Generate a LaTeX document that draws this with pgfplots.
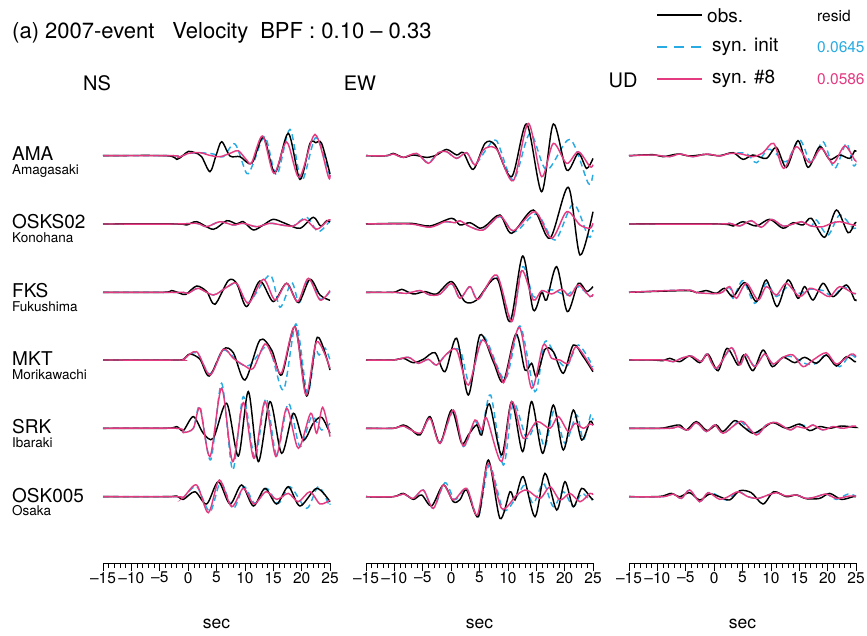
\documentclass[border=0pt]{standalone}
\usepackage{pgfplots}
\pgfplotsset{compat=1.18}
\usepackage{fontspec}
\setmainfont{TeX Gyre Heros}
\definecolor{cyanR}{RGB}{40,170,226}
\definecolor{magR}{RGB}{228,58,128}
\newcommand{\fs}[1]{\fontsize{#1}{#1}\selectfont}
\pgfplotsset{
  obs/.style={black, line width=1.45pt, smooth, tension=0.5, mark=none},
  ini/.style={cyanR, line width=1.45pt, dash pattern=on 6pt off 4pt, smooth, tension=0.5, mark=none},
  sy8/.style={magR, line width=1.45pt, smooth, tension=0.5, mark=none},
  r1/.style={y filter/.expression={y+407.3}},
  r2/.style={y filter/.expression={y+339.0}},
  r3/.style={y filter/.expression={y+270.7}},
  r4/.style={y filter/.expression={y+203.0}},
  r5/.style={y filter/.expression={y+134.7}},
  r6/.style={y filter/.expression={y+66.3}},
  panel/.style={
    scale only axis, width=227pt, height=453pt,
    xmin=-15, xmax=25, ymin=0, ymax=453,
    axis x line=bottom, axis y line=none,
    axis line style={-, line width=0.8pt},
    clip=false,
    xtick={-15,-10,...,25},
    xticklabels={–15,–10,–5,0,5,10,15,20,25},
    minor x tick num=4,
    tick align=outside, major tick length=8pt, minor tick length=4.5pt,
    every tick/.style={black, line width=0.6pt},
    xticklabel style={font=\fs{15.5}, inner sep=1pt},
    xlabel={sec},
    xlabel style={font=\fs{17.5}, at={(axis description cs:0.5,0)}, anchor=center, yshift=-61pt},
  }
}
\begin{document}
\begin{tikzpicture}
\useasboundingbox (0,0) rectangle (867pt,635pt);

% ---------------- NS ----------------
\begin{axis}[panel, at={(103pt,72pt)}, anchor=south west]
% AMA
\addplot[ini,r1] coordinates {(-15,0)(-2.6,0)(-1.7,-1.5)(0.04,2)(2.09,3)(4.44,1.7)(6.2,-1)(8.26,11.7)(10.31,-17.7)(11.49,-7.7)(13.54,19)(15.6,-19.3)(17.95,26.3)(20.01,-25)(22.53,18.3)(25,-21)};
\addplot[obs,r1] coordinates {(-15,0)(-3.78,0)(-2.0,-3.7)(-0.96,0)(0.04,4.3)(1.21,3)(2.38,-1)(3.85,-16)(4.91,0)(5.91,14)(7.38,-0.3)(9.14,-1)(11.2,-7.7)(13.25,18.3)(15.31,-17)(17.66,22.3)(19.71,-23.7)(21.47,12.3)(22.5,13)(23.53,12.3)(25,-18.3)};
\addplot[sy8,r1] coordinates {(-15,0)(-2.61,0)(-1.73,-1.7)(0.04,2.3)(2.09,3)(3.85,0.3)(5.62,-1)(7.67,3)(8.85,5)(10.31,-4.3)(11.2,-7)(13.13,19.7)(15.13,-17.7)(17.36,13.7)(19.59,-21.7)(22.36,21.3)(24.71,-21)(25,-19.3)};
% OSKS02
\addplot[ini,r2] coordinates {(-15,0)(-2,0)(1.5,0.7)(3.27,-2.7)(5.62,2.3)(7.96,-1)(9.73,0.7)(12.08,-2.7)(14.43,0.7)(16.48,-1)(18.54,-2)(20.89,6.7)(22.94,-7.7)(25,3.3)};
\addplot[obs,r2] coordinates {(-15,0)(-2.0,0)(-0.26,-1)(1.5,2.3)(4.44,-5.3)(6.79,3.3)(8.55,0)(9.73,2.3)(11.49,-6)(13.25,-1)(15.01,4.7)(17.07,0.7)(19.71,-4.3)(22.06,6.7)(23.35,-2)(24.41,3.3)(25,2)};
\addplot[sy8,r2] coordinates {(-15,0)(-2,0)(1.5,0.7)(3.27,-2.7)(5.62,2.3)(7.96,-1)(9.73,0.7)(12.08,-2.7)(14.43,0.7)(16.48,-1)(18.54,-2)(20.59,4.7)(22.65,-5.3)(24.71,4)(25,3.3)};
% FKS
\addplot[ini,r3] coordinates {(-15,0)(-2.61,0)(-0.85,0)(0.04,-1)(1.8,4)(4.44,-2.7)(6.79,5)(8.55,8)(10.61,-10.3)(14.43,17.3)(16.19,-15)(18.24,9.7)(19.59,-10.3)(21.36,14)(23.24,-7)(25,0.7)};
\addplot[obs,r3] coordinates {(-15,0)(-4.37,0)(-2.9,1.7)(-1.43,-1)(-0.38,-2)(1.5,6.3)(3.27,0.7)(4.73,-12)(7.08,11.7)(8.55,9)(10.31,-14.3)(12.66,11.3)(15.01,-9.3)(17.36,9)(19.42,-10.3)(21.47,13)(23.24,-2.7)(25,-8)};
\addplot[sy8,r3] coordinates {(-15,0)(-2.61,0)(-0.85,0)(0.04,-1)(1.8,4)(4.44,-2.7)(6.79,5)(8.55,9)(10.61,-11)(13.25,13)(15.31,-7.7)(17.36,9)(19.3,-9.3)(21.18,14)(23.24,-7.7)(25,1.7)};
% MKT
\addplot[ini,r4] coordinates {(-15,0)(-2,0)(-0.85,0.7)(1.5,7.3)(3.85,-14)(6.2,10)(9.14,-3.3)(10.9,-5)(14.13,13.3)(16.78,-30)(19.01,36)(21.0,-33.3)(22.36,8)(23.1,5)(24.12,12)(25,0)};
\addplot[obs,r4] coordinates {(-15,0)(-2.0,0)(-0.85,0.7)(0.33,6)(2.09,0.7)(3.74,-16)(6.2,10.7)(7.96,7.3)(10.02,-20)(12.66,20)(14.72,10)(16.48,-15)(18.83,33.3)(20.89,-36)(22.77,22.7)(25,-10)};
\addplot[sy8,r4] coordinates {(-15,0)(-2,0)(-0.85,0.7)(1.5,8.3)(3.85,-15)(6.2,10.7)(7.96,1.7)(10.02,-6)(11.49,-8.3)(13.54,16)(15.01,1.7)(16.48,-12.7)(18.83,33.3)(20.77,-35)(22.65,18.3)(25,-8.3)};
% SRK
\addplot[ini,r5] coordinates {(-15,0)(-2,0)(-0.85,-4)(0.92,0)(2.09,21.7)(3.97,-31.7)(5.91,45)(7.85,-41.7)(9.73,31.7)(11.78,-30)(13.72,30)(15.6,-26.7)(17.66,25)(19.71,-18.3)(21.77,11.7)(23.53,-1.7)(25,5)};
\addplot[obs,r5] coordinates {(-15,0)(-3.78,0)(-2.0,1.7)(-0.85,-2.3)(0.92,11.7)(2.68,-5)(4.44,-10)(6.79,25)(8.85,-27.7)(10.61,36.7)(12.37,-33.3)(14.43,26.7)(16.48,-25)(18.54,15)(20.3,-11.7)(22.06,5)(23.53,11)(25,-5)};
\addplot[sy8,r5] coordinates {(-15,0)(-2.0,0)(-0.85,-4.3)(0.92,0)(2.09,20)(3.85,-28.3)(5.91,40)(7.85,-33.3)(9.73,25.7)(11.61,-30)(13.54,26.7)(15.48,-28.3)(17.36,20)(19.42,-20)(21.59,15)(22.65,-5)(23.71,21)(25,-8.3)};
% OSK005
\addplot[ini,r6] coordinates {(-15,0)(-2,0)(-0.85,-0.7)(1.5,10)(3.85,-15)(5.73,14)(7.96,-11.7)(9.85,10)(11.78,-6.7)(13.84,8.3)(15.89,-6.7)(17.95,10)(20.89,-11.7)(22.94,10)(24.88,-8.3)(25,-7)};
\addplot[obs,r6] coordinates {(-15,0)(-3.78,0)(-2.0,0.7)(-0.85,-2.7)(1.21,5)(3.27,-7.3)(5.32,15)(7.38,-7.3)(9.43,11.7)(11.49,-9.3)(13.54,8.3)(15.6,-7.3)(17.66,10)(19.71,-9.3)(22.65,8.3)(25,-5)};
\addplot[sy8,r6] coordinates {(-15,0)(-2,0)(-0.85,-0.7)(1.5,11.7)(3.56,-16)(5.5,16.7)(7.67,-10)(9.73,8.3)(11.61,-7.3)(13.72,5)(15.6,-2.7)(17.66,3.3)(19.42,-5)(21.47,5)(23.24,-7.3)(25,-3.3)};
\end{axis}

% ---------------- EW ----------------
\begin{axis}[panel, at={(366pt,72pt)}, anchor=south west]
% AMA
\addplot[ini,r1] coordinates {(-15,0)(-11.36,0)(-10.19,1.7)(-8.42,-1.7)(-6.07,2)(-4.02,-7)(-2.26,3)(-0.79,4)(0.97,-2.7)(2.74,3)(4.2,-8.7)(6.26,6.7)(8.02,15)(10.96,-24.3)(13.9,22.3)(16.83,-14.3)(20.94,16.3)(24.18,-27.7)(25,-17.7)};
\addplot[obs,r1] coordinates {(-15,0)(-11.36,0)(-10.19,2.3)(-8.42,-1.7)(-6.66,0.7)(-4.31,-1.7)(-2.55,0.7)(-0.79,6.3)(0.97,0.7)(2.15,3)(3.91,-13.7)(5.97,12.3)(7.73,10.7)(10.67,-21)(13.31,31.7)(15.95,-36)(18.01,31.7)(20.36,-14.3)(22.41,2.3)(23.88,-12.7)(25,-2.7)};
\addplot[sy8,r1] coordinates {(-15,0)(-11.36,0)(-10.19,1.7)(-8.42,-1.7)(-6.07,2.3)(-4.02,-7.7)(-2.26,3)(-0.79,4)(0.97,-2.7)(2.74,3)(4.2,-9.3)(5.67,5.7)(7.14,9)(8.32,4)(10.96,-25)(13.6,32.3)(15.95,-21)(18.01,12.3)(20.36,-7.7)(22.41,4)(24.47,-11)(25,-9)};
% OSKS02
\addplot[ini,r2] coordinates {(-15,0)(-7.25,0)(-3.73,-3)(-1.08,2)(0.68,1.3)(1.56,3)(3.32,-2.7)(5.67,-5.7)(8.61,7.3)(11.25,-7.7)(15.07,10)(18.3,-16)(21.53,20)(24.18,-12.7)(25,-6)};
\addplot[obs,r2] coordinates {(-15,0)(-7.25,0.7)(-3.73,-2)(0.09,5.7)(1.56,-1)(3.32,1.3)(5.09,-4.3)(6.26,-1)(8.61,9)(10.67,-9.3)(14.48,14)(17.42,-14.3)(20.65,36.7)(22.71,-31)(25,12.3)};
\addplot[sy8,r2] coordinates {(-15,0)(-7.25,0)(-3.73,-3.3)(-1.08,2.3)(0.68,1.3)(1.56,3.3)(3.32,-2.7)(5.67,-6)(8.61,8)(10.96,-6.7)(14.78,12.3)(17.71,-14.3)(20.36,12.3)(22.71,-1)(24.47,-4.3)(25,0.7)};
% FKS
\addplot[ini,r3] coordinates {(-15,0)(-10.19,0)(-7.84,-1)(-5.49,1.7)(-3.73,-2.7)(-1.96,-1.7)(0.09,8.5)(1.56,-6)(3.32,5.7)(4.79,-7)(8.02,15.7)(10.67,-27.7)(12.6,25.7)(14.48,-4.3)(16.25,0.7)(18.01,2.3)(20.36,-2.7)(22.41,5.7)(24.47,-4.3)(25,-2)};
\addplot[obs,r3] coordinates {(-15,0)(-10.19,0)(-8.72,3)(-6.66,-1.7)(-4.61,0.7)(-2.55,-1.7)(0.09,10.7)(2.44,-9.3)(4.5,-7.7)(8.02,14)(10.37,-29.3)(12.6,36.3)(14.48,-17.7)(15.95,0)(16.83,-7.7)(18.6,25.7)(20.47,-19.3)(22.41,9)(23.88,0.7)(25,5.7)};
\addplot[sy8,r3] coordinates {(-15,0)(-10.19,0)(-7.84,-1)(-5.49,1.7)(-3.73,-2.7)(-1.96,-1.7)(0.09,9)(1.56,-6)(3.32,5.7)(4.79,-7)(8.02,17.3)(10.67,-29.3)(12.43,21.7)(14.48,-7.7)(15.95,1.7)(17.71,-1.7)(19.48,3)(20.94,-3.7)(22.41,7.3)(24.47,-4.3)(25,-2)};
% MKT
\addplot[ini,r4] coordinates {(-15,0)(-10.19,0)(-7.54,2.7)(-5.78,-3.3)(-4.02,0.7)(-2.55,-5)(-0.79,6)(1.56,10)(3.32,-23.3)(5.67,23.3)(9.49,-19.3)(12.13,34)(14.78,-31.7)(16.54,18.3)(18.6,1.7)(20.36,-6.7)(22.41,15)(25,-6.7)};
\addplot[obs,r4] coordinates {(-15,0)(-10.19,0)(-8.42,1.7)(-6.66,-2.7)(-4.9,0.7)(-2.84,7.3)(-1.08,-11.7)(0.97,21.7)(3.03,-35)(5.09,25)(7.43,-1.7)(9.2,-21.7)(11.43,26)(13.01,-10)(14.19,-3.3)(15.07,-16.7)(16.54,10.7)(18.01,8.3)(19.77,-13.3)(21.53,15)(23.29,3.3)(25,-11.7)};
\addplot[sy8,r4] coordinates {(-15,0)(-10.19,0)(-7.54,2.7)(-5.78,-3.3)(-4.02,0.7)(-2.55,-5)(-0.79,6)(0.97,10)(3.03,-25)(5.56,20)(8.61,-15)(9.49,-20)(12.02,32.7)(14.19,-28.3)(16.25,15)(17.71,1.7)(19.18,0)(20.65,-3.3)(22.12,13.3)(25,-10)};
% SRK
\addplot[ini,r5] coordinates {(-15,0)(-10.19,0)(-8.42,2.3)(-5.49,-5)(-3.73,10)(-1.96,-14)(0.39,17)(2.15,-18.3)(4.2,6.7)(5.38,-3.3)(6.96,33.3)(9.2,-36.7)(10.96,25)(13.31,-10)(15.07,5)(16.54,-18.3)(18.18,18.3)(20.06,-15)(22.12,13.3)(23.29,-11.7)(24.59,13.3)(25,8)};
\addplot[obs,r5] coordinates {(-15,0)(-10.19,0)(-8.42,3.3)(-7.25,0)(-5.49,-6.7)(-3.73,11.7)(-1.96,-15)(0.09,18.3)(1.85,-15)(3.03,-6.7)(4.5,3.3)(5.38,-6.7)(6.73,24.3)(8.9,-26.7)(10.67,26.7)(12.6,-23.3)(14.19,26.7)(16.13,-25)(18.01,23.3)(19.77,-21.7)(21.53,18.3)(23.0,-11.7)(24.47,6.7)(25,3.3)};
\addplot[sy8,r5] coordinates {(-15,0)(-10.19,0)(-8.42,2.3)(-5.49,-5)(-3.73,10)(-1.96,-15)(0.39,18.3)(2.15,-17.7)(4.2,8.3)(5.38,-1.7)(6.26,10)(8.9,-33.3)(10.67,26.7)(12.72,-10)(15.07,6.7)(17.42,0)(18.89,11.7)(20.65,-3.3)(21.83,5)(23.29,0)(24.47,4.3)(25,3)};
% OSK005
\addplot[ini,r6] coordinates {(-15,0)(-10.19,0)(-8.42,2.7)(-6.66,-1.7)(-4.9,6.7)(-3.14,-11.7)(-1.08,14)(0.68,-3)(2.74,8.3)(4.79,-20)(6.73,31.7)(9.2,-13.3)(11.55,0)(13.01,11.7)(14.48,-6.7)(16.25,13.3)(18.01,-10)(19.77,5)(21.53,-10)(23.0,3.3)(24.47,-3.3)(25,-2)};
\addplot[obs,r6] coordinates {(-15,0)(-10.19,0)(-8.42,3.3)(-6.66,-2.7)(-5.19,1.7)(-3.43,-9.3)(-1.37,11.7)(0.39,-5)(1.56,-3)(2.74,6.7)(4.79,-20)(6.55,36.7)(8.61,-21.7)(10.37,5)(11.25,-3.3)(12.72,20)(14.78,-20)(16.54,23.3)(18.6,-13.3)(20.06,15)(21.53,-10)(23.0,8.3)(24.47,0)(25,-3.3)};
\addplot[sy8,r6] coordinates {(-15,0)(-10.19,0)(-8.42,2.7)(-6.66,-1.7)(-4.9,6.7)(-3.14,-11.7)(-1.37,11.7)(0.39,-3.3)(2.74,8.3)(4.62,-18.3)(6.55,33.3)(8.9,-11.7)(11.55,1.7)(13.31,6.7)(15.66,-1.7)(17.42,10)(19.18,-3.3)(20.94,3.3)(22.71,-5)(24.47,3.3)(25,2)};
\end{axis}

% ---------------- UD ----------------
\begin{axis}[panel, at={(629pt,72pt)}, anchor=south west]
% AMA
\addplot[ini,r1] coordinates {(-15,0)(-10.77,0.7)(-7.83,-1)(-6.07,1.7)(-3.72,-1)(-1.37,1.7)(0.98,-0.3)(2.74,2.3)(5.68,2.3)(7.44,-7)(9.5,6.3)(10.97,1.7)(12.73,-6)(15.08,15.7)(17.13,-7)(19.19,14)(21.24,-12.7)(23.3,12.3)(24.48,-9.3)(25,-8)};
\addplot[obs,r1] coordinates {(-15,0)(-10.77,1)(-9.0,-1)(-6.36,1.7)(-4.31,-0.3)(-1.37,1.3)(0.98,0)(3.33,3)(5.09,-3.7)(6.85,0.7)(9.2,-2.7)(10.97,8.3)(12.73,-11.7)(14.78,15)(16.55,-11.7)(18.6,9)(20.36,-3.7)(22.13,0.7)(23.89,-2.7)(24.77,5)(25,4)};
\addplot[sy8,r1] coordinates {(-15,0)(-10.77,0.7)(-7.83,-1)(-6.07,1.7)(-3.72,-1)(-1.37,1.7)(0.98,-0.3)(2.74,2.3)(4.8,1.7)(6.85,-1)(8.62,3)(10.5,12.3)(12.26,-12.7)(14.49,9)(16.84,-7)(18.9,7.3)(20.95,-7.7)(23.01,9.7)(24.77,-4.3)(25,-5)};
% OSKS02
\addplot[ini,r2] coordinates {(-15,0)(0.98,0)(2.74,0.7)(4.51,-2)(6.56,3.3)(8.32,-3.3)(10.09,4.7)(12.14,-2)(13.9,0)(15.37,2.3)(17.13,-2)(18.02,4)(20.07,-11)(22.13,9)(24.48,-4.3)(25,-3)};
\addplot[obs,r2] coordinates {(-15,0)(0.98,0)(3.33,-2)(5.09,2.3)(7.44,-2)(9.79,4.7)(12.14,-4.3)(13.9,1.3)(15.67,-1)(17.13,5.7)(19.48,-13.3)(21.54,14)(23.6,-8.7)(24.77,0.7)(25,1)};
\addplot[sy8,r2] coordinates {(-15,0)(0.98,0)(2.74,0.7)(4.51,-2)(6.56,3.3)(8.32,-3.3)(10.09,4.7)(12.14,-2)(13.9,0)(15.37,2.3)(17.13,-2)(19.19,-2.7)(20.66,0.7)(22.13,2.3)(24.48,-1)(25,-1)};
% FKS
\addplot[ini,r3] coordinates {(-15,0)(-4.89,2.3)(-3.13,-0.3)(0.98,-1)(2.74,5)(3.33,-6)(5.09,11.7)(7.15,-11)(9.2,9)(10.97,-4.3)(13.02,5.7)(15.08,-1)(16.84,3)(19.19,1.7)(20.95,-4.3)(22.72,5.7)(24.48,-1)(25,-1)};
\addplot[obs,r3] coordinates {(-15,0)(-4.89,1.7)(-3.13,-0.3)(-1.37,1.7)(0.39,-1)(1.86,4)(3.33,-4.3)(5.39,9.7)(7.44,-9.3)(9.2,12.3)(11.08,-14.3)(13.02,12.3)(14.78,-6)(15.96,5.7)(17.43,-7.7)(19.19,9)(20.95,-4.3)(23.3,7.3)(24.77,-7.7)(25,-7)};
\addplot[sy8,r3] coordinates {(-15,0)(-4.89,2.3)(-3.13,-0.3)(0.98,-1)(2.74,5.7)(3.92,-6)(5.68,9)(7.74,-7.7)(9.2,5.7)(10.97,-2.7)(12.73,9)(15.08,-4.3)(16.84,4)(18.6,0.7)(20.36,-4.3)(22.13,5.7)(24.48,-1)(25,-1)};
% MKT
\addplot[ini,r4] coordinates {(-15,0)(-9,0)(-7.24,-1.7)(-5.77,1.7)(-4.01,4)(-2.25,-1.7)(-1.25,6)(0.39,-9)(3.03,12)(4.51,-5)(5.56,5.5)(7.15,-6)(8.91,6)(10.38,-4)(12.14,2.7)(13.9,3.3)(16.25,-4)(18.02,-3.3)(19.78,5)(22.13,-6.7)(23.89,5)(25,2)};
\addplot[obs,r4] coordinates {(-15,0)(-10.77,0)(-9.0,-0.7)(-7.83,1.7)(-6.07,-1.7)(-4.31,4)(-2.54,-2.7)(-1.07,5.7)(0.69,-10.7)(2.27,11.7)(4.21,-5)(5.21,5)(6.85,-10.7)(8.62,10)(10.26,-6.7)(12.14,2.7)(14.2,-2.7)(15.96,2.7)(18.02,-3.3)(19.78,5)(21.54,-6)(23.3,3.3)(24.77,-1.7)(25,-1.7)};
\addplot[sy8,r4] coordinates {(-15,0)(-9.0,0)(-7.24,-1.7)(-5.77,1.7)(-4.01,4)(-2.25,-1.7)(-1.25,6)(0.39,-8.3)(3.03,12.3)(4.51,-5)(5.56,6)(7.15,-6.7)(8.91,6)(10.38,-4)(12.14,2.7)(13.9,5)(15.67,-6.7)(17.43,0)(19.78,7.3)(21.54,-4)(24.18,6)(25,3.3)};
% SRK
\addplot[ini,r5] coordinates {(-15,0)(-7.83,0)(-6.36,1.7)(-4.6,-1.7)(-3.13,5.7)(-1.37,-3.3)(0.1,3.3)(1.57,-5)(3.62,3.3)(4.51,7.7)(7.15,-5)(9.2,3.3)(10.97,5.7)(13.32,-1.7)(15.08,3.3)(16.84,1.7)(17.43,3.3)(19.19,-1.7)(20.95,1.7)(22.72,0)(24.48,2.3)(25,2)};
\addplot[obs,r5] coordinates {(-15,0)(-9.59,0)(-7.83,1.7)(-6.07,3.3)(-4.89,-1.7)(-3.13,6.7)(-1.25,-2.3)(0.39,3.3)(1.57,-3.3)(3.62,7.7)(5.09,1.7)(6.85,-5)(8.62,0)(10.38,5.7)(12.73,0)(15.08,4.3)(16.84,-2.3)(18.6,1.7)(20.36,0)(22.42,2.3)(24.77,1)(25,1)};
\addplot[sy8,r5] coordinates {(-15,0)(-7.83,0)(-6.36,1.7)(-4.6,-1.7)(-3.13,5.7)(-1.37,-3.3)(0.1,3.3)(1.57,-5)(3.62,3.3)(5.09,6.7)(7.44,-6.7)(9.2,3.3)(10.97,5.7)(13.32,-1.7)(14.49,1.7)(16.25,0)(17.43,3.3)(19.19,-1.7)(20.95,1.7)(22.72,0)(24.48,2.3)(25,2)};
% OSK005
\addplot[ini,r6] coordinates {(-15,0)(-9.0,0)(-7.24,2.7)(-5.77,-1.7)(-4.31,6.7)(-2.54,-5)(-1.07,4)(0.1,2.7)(2.16,-3.3)(4.21,5)(5.97,0)(7.74,-1.7)(9.5,1.7)(10.97,4)(12.73,0.7)(14.49,1.7)(16.25,-1.7)(18.02,0)(19.78,2.7)(21.54,-2.7)(23.6,2.7)(25,0.5)};
\addplot[obs,r6] coordinates {(-15,0)(-10.77,0)(-9.0,0.7)(-7.54,3.3)(-6.07,0)(-4.31,4)(-2.54,-3.3)(-0.78,2.7)(0.98,0)(2.74,-3.3)(4.51,6)(6.56,4)(8.62,-7.3)(10.5,5)(12.73,0)(14.49,1.7)(16.25,-2)(18.6,-1.7)(20.36,3.3)(22.42,-2.7)(24.48,0)(25,0)};
\addplot[sy8,r6] coordinates {(-15,0)(-9.0,0)(-7.24,2.7)(-5.77,-1.7)(-4.31,6.7)(-2.54,-5)(-1.07,4)(0.98,-2.7)(2.45,0)(4.21,5)(5.97,0)(7.74,-1.7)(9.5,1.7)(10.97,4)(12.73,0.7)(14.49,1.7)(16.25,-1.7)(18.02,0)(19.78,2.7)(21.54,-1.7)(23.89,0.7)(25,0.5)};
\end{axis}

% ---------------- texts ----------------
\node[anchor=west, font=\fs{22}, inner sep=0pt] at (12pt,602pt) {(a) 2007-event\hspace{18pt}Velocity\hspace{12pt}BPF : 0.10 – 0.33};
\node[font=\fs{20}, inner sep=0pt] at (97pt,552pt) {NS};
\node[font=\fs{20}, inner sep=0pt] at (360pt,552pt) {EW};
\node[font=\fs{20}, inner sep=0pt] at (623pt,555pt) {UD};

% legend
\draw[black, line width=1.45pt] (657pt,620pt) -- (702pt,620pt);
\draw[cyanR, line width=1.45pt, dash pattern=on 10pt off 7pt] (657pt,588pt) -- (702pt,588pt);
\draw[magR, line width=1.45pt] (657pt,556pt) -- (702pt,556pt);
\node[anchor=west, font=\fs{19}, inner sep=0pt] at (707pt,619pt) {obs.};
\node[anchor=west, font=\fs{19}, inner sep=0pt] at (712pt,588pt) {syn. init};
\node[anchor=west, font=\fs{19}, inner sep=0pt] at (712pt,556pt) {syn. \#8};
\node[anchor=west, font=\fs{15.5}, inner sep=0pt] at (817pt,619pt) {resid};
\node[anchor=west, font=\fs{15.5}, inner sep=0pt, text=cyanR] at (817pt,588pt) {0.0645};
\node[anchor=west, font=\fs{15.5}, inner sep=0pt, text=magR] at (817pt,556pt) {0.0586};

% station labels (main name above, place name just below)
\tikzset{stn/.style={anchor=base west, font=\fs{19}, inner sep=0pt}, sub/.style={anchor=north west, font=\fs{13.5}, inner sep=0pt, text height=10pt}}
\node[stn] at (12pt,474pt) {AMA};
\node[sub] at (12pt,471pt) {Amagasaki};
\node[stn] at (12pt,406pt) {OSKS02};
\node[sub] at (12pt,403pt) {Konohana};
\node[stn] at (12pt,337pt) {FKS};
\node[sub] at (12pt,334pt) {Fukushima};
\node[stn] at (12pt,269pt) {MKT};
\node[sub] at (12pt,266pt) {Morikawachi};
\node[stn] at (12pt,201pt) {SRK};
\node[sub] at (12pt,198pt) {Ibaraki};
\node[stn] at (12pt,133pt) {OSK005};
\node[sub] at (12pt,130pt) {Osaka};
\end{tikzpicture}
\end{document}
